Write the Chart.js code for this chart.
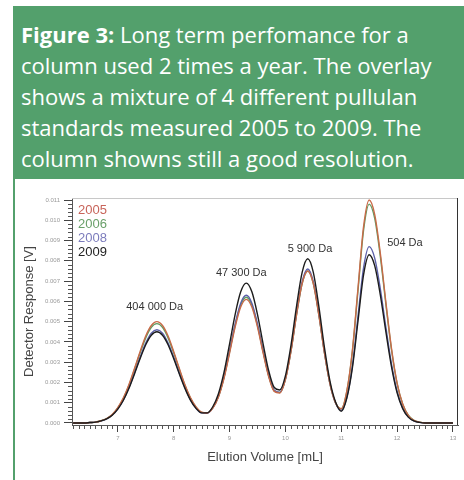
<!DOCTYPE html>
<html>
<head>
<meta charset="utf-8">
<script src="https://cdn.jsdelivr.net/npm/chart.js@4"></script>
<style>
  body { margin: 0; background: #fff; width: 464px; height: 480px; position: relative; overflow: hidden; }
  #header {
    position: absolute; left: 13px; top: 6px; width: 451px; height: 173px;
    background: #53a06c; color: #fff;
    font-family: "Open Sans", sans-serif; font-size: 22px; line-height: 31px;
    box-sizing: border-box; padding: 13px 0 0 8px; white-space: nowrap;
  }
  #header b { font-weight: 700; }
  #bar { position: absolute; left: 13px; top: 179px; width: 2px; height: 301px; background: #53a06c; }
  #wrap { position: absolute; left: 15px; top: 179px; width: 449px; height: 301px; }
</style>
</head>
<body>
<div id="header"><b>Figure 3:</b> Long term perfomance for a<br>column used 2 times a year. The overlay<br>shows a mixture of 4 different pullulan<br>standards measured 2005 to 2009. The<br>column showns still a good resolution.</div>
<div id="bar"></div>
<div id="wrap"><canvas id="gpcChart"></canvas></div>
<script>
// elution volume (mL), one point every 0.1 mL
const volumes = [6.2, 6.3, 6.4, 6.5, 6.6, 6.7, 6.8, 6.9,
  7.0, 7.1, 7.2, 7.3, 7.4, 7.5, 7.6, 7.7, 7.8, 7.9,
  8.0, 8.1, 8.2, 8.3, 8.4, 8.5, 8.6, 8.7, 8.8, 8.9,
  9.0, 9.1, 9.2, 9.3, 9.4, 9.5, 9.6, 9.7, 9.8, 9.9,
  10.0, 10.1, 10.2, 10.3, 10.4, 10.5, 10.6, 10.7, 10.8, 10.9,
  11.0, 11.1, 11.2, 11.3, 11.4, 11.5, 11.6, 11.7, 11.8, 11.9,
  12.0, 12.1, 12.2, 12.3, 12.4, 12.5, 12.6, 12.7, 12.8, 12.9,
  13.0];

// detector response (V) per year
const resp2005 = [0, 0, 0, 0.00002, 0.00004, 0.00011, 0.00022, 0.00042,
  0.00076, 0.00124, 0.0019, 0.0027, 0.00353, 0.00429, 0.00481, 0.0050, 0.00481, 0.00429,
  0.00353, 0.0027, 0.0019, 0.00125, 0.00079, 0.00053, 0.00049, 0.00073, 0.00127, 0.00219,
  0.00344, 0.00473, 0.00572, 0.0061, 0.00572, 0.00474, 0.00347, 0.00229, 0.00156, 0.00148,
  0.00214, 0.00355, 0.00535, 0.00688, 0.0075, 0.00688, 0.00531, 0.00344, 0.0019, 0.00098,
  0.0007, 0.00158, 0.0036, 0.00666, 0.0097, 0.0110, 0.01027, 0.00836, 0.00594, 0.00367,
  0.00197, 0.00094, 0.00038, 0.00013, 0.00004, 0, 0, 0, 0, 0,
  0];
const resp2006 = [0, 0, 0, 0.00002, 0.00004, 0.00011, 0.00022, 0.00041,
  0.00074, 0.00122, 0.00186, 0.00265, 0.00346, 0.0042, 0.00472, 0.0049, 0.00472, 0.0042,
  0.00346, 0.00265, 0.00187, 0.00123, 0.00078, 0.00052, 0.00049, 0.00074, 0.00129, 0.00223,
  0.0035, 0.00481, 0.00582, 0.0062, 0.00582, 0.00482, 0.00353, 0.00233, 0.00158, 0.0015,
  0.00214, 0.00354, 0.00534, 0.00688, 0.0075, 0.00688, 0.00531, 0.00344, 0.0019, 0.00098,
  0.0007, 0.00156, 0.00354, 0.00654, 0.00952, 0.0108, 0.01008, 0.00821, 0.00583, 0.0036,
  0.00194, 0.00092, 0.00038, 0.00013, 0.00004, 0, 0, 0, 0, 0,
  0];
const resp2008 = [0, 0, 0, 0.00002, 0.00004, 0.0001, 0.0002, 0.00039,
  0.0007, 0.00114, 0.00175, 0.00248, 0.00325, 0.00394, 0.00443, 0.0046, 0.00443, 0.00394,
  0.00325, 0.00248, 0.00176, 0.00115, 0.00073, 0.0005, 0.00048, 0.00074, 0.00131, 0.00226,
  0.00355, 0.00488, 0.00591, 0.0063, 0.00591, 0.00489, 0.00358, 0.00237, 0.00161, 0.00151,
  0.00217, 0.00359, 0.00541, 0.00697, 0.0076, 0.00697, 0.00537, 0.00348, 0.00192, 0.00097,
  0.00062, 0.00127, 0.00283, 0.00527, 0.00767, 0.0087, 0.00812, 0.00661, 0.0047, 0.0029,
  0.00156, 0.00074, 0.0003, 0.0001, 0.00003, 0, 0, 0, 0, 0,
  0];
const resp2009 = [0, 0, 0, 0.00002, 0.00004, 0.0001, 0.0002, 0.00038,
  0.00068, 0.00112, 0.00171, 0.00243, 0.00318, 0.00386, 0.00433, 0.0045, 0.00433, 0.00386,
  0.00318, 0.00243, 0.00172, 0.00113, 0.00072, 0.0005, 0.0005, 0.0008, 0.00143, 0.00248,
  0.00389, 0.00535, 0.00647, 0.0069, 0.00647, 0.00536, 0.00392, 0.00259, 0.00175, 0.00163,
  0.00232, 0.00383, 0.00577, 0.00743, 0.0081, 0.00743, 0.00573, 0.00371, 0.00204, 0.00102,
  0.00058, 0.00123, 0.00273, 0.00503, 0.00732, 0.0083, 0.00775, 0.00631, 0.00448, 0.00277,
  0.00149, 0.00071, 0.00029, 0.0001, 0.00003, 0, 0, 0, 0, 0,
  0];

const years = ['2005', '2006', '2008', '2009'];
const xTicks = [7, 8, 9, 10, 11, 12, 13];
const yTicks = [0, 0.001, 0.002, 0.003, 0.004, 0.005, 0.006, 0.007, 0.008, 0.009, 0.010, 0.011];

// peak annotations (molar mass) and where they sit in data units
const peakNames = ['404 000 Da', '47 300 Da', '5 900 Da', '504 Da'];
const peakNameVol = [7.66, 9.21, 10.44, 12.14];
const peakNameResp = [0.0057, 0.0074, 0.0086, 0.0089];

const lineColors = ['#c86a48', '#5f9c62', '#5c60a8', '#1c1c1c'];
const legendColors = ['#c8645a', '#6aa06a', '#7c7cbc', '#222222'];
const FONT = '"Liberation Sans", Arial, sans-serif';

function toPoints(arr) {
  return volumes.map((v, i) => ({ x: v, y: arr[i] }));
}

const extras = {
  id: 'extras',
  afterDatasetsDraw(chart) {
    const { ctx, chartArea: a, scales: { x, y } } = chart;
    ctx.save();

    // frame: light top, dark right
    ctx.lineWidth = 1;
    ctx.strokeStyle = '#c8c8c8';
    ctx.beginPath(); ctx.moveTo(a.left, a.top + 0.5); ctx.lineTo(a.right, a.top + 0.5); ctx.stroke();
    ctx.strokeStyle = '#333';
    ctx.beginPath(); ctx.moveTo(a.right - 0.5, a.top); ctx.lineTo(a.right - 0.5, a.bottom); ctx.stroke();

    // minor ticks
    ctx.strokeStyle = '#555';
    ctx.beginPath();
    for (let i = 1; i <= 55; i++) {
      if (i % 5 === 0) continue;
      const py = Math.round(y.getPixelForValue(i * 0.0002)) + 0.5;
      ctx.moveTo(a.left - 4, py); ctx.lineTo(a.left, py);
    }
    for (let i = 62; i <= 130; i++) {
      if (i % 10 === 0) continue;
      const px = Math.round(x.getPixelForValue(i / 10)) + 0.5;
      ctx.moveTo(px, a.bottom); ctx.lineTo(px, a.bottom + 4);
    }
    ctx.stroke();

    // legend, coloured text only
    ctx.font = '13px ' + FONT;
    ctx.textBaseline = 'middle';
    ctx.textAlign = 'left';
    years.forEach((yr, i) => {
      ctx.fillStyle = legendColors[i];
      ctx.fillText(yr, a.left + 6, a.top + 12 + i * 14);
    });

    // peak labels
    ctx.fillStyle = '#333';
    ctx.font = '11px ' + FONT;
    ctx.textAlign = 'center';
    peakNames.forEach((t, i) => {
      ctx.fillText(t, x.getPixelForValue(peakNameVol[i]), y.getPixelForValue(peakNameResp[i]));
    });
    ctx.restore();
  }
};

const ctx = document.getElementById('gpcChart').getContext('2d');
new Chart(ctx, {
  type: 'line',
  data: {
    datasets: [
      { label: '2005', data: toPoints(resp2005), borderColor: lineColors[0], order: 1 },
      { label: '2006', data: toPoints(resp2006), borderColor: lineColors[1], order: 3 },
      { label: '2008', data: toPoints(resp2008), borderColor: lineColors[2], order: 2 },
      { label: '2009', data: toPoints(resp2009), borderColor: lineColors[3], order: 0 }
    ]
  },
  options: {
    responsive: true,
    maintainAspectRatio: false,
    animation: false,
    layout: { padding: { left: 3, right: 6, top: 19, bottom: 11 } },
    elements: {
      point: { radius: 0 },
      line: { borderWidth: 1.4, cubicInterpolationMode: 'monotone', fill: false }
    },
    plugins: {
      legend: { display: false },
      tooltip: { enabled: false }
    },
    scales: {
      x: {
        type: 'linear',
        min: 6.18,
        max: 13.09,
        afterBuildTicks: s => { s.ticks = xTicks.map(v => ({ value: v })); },
        afterFit: s => { s.height = 44; },
        grid: { drawOnChartArea: false, tickLength: 7, color: '#444' },
        border: { color: '#555' },
        ticks: { font: { size: 6, family: FONT }, color: '#999', padding: 3, maxRotation: 0 },
        title: { display: true, text: 'Elution Volume [mL]', font: { size: 13, family: FONT }, color: '#444', padding: { top: 4, bottom: 4 } }
      },
      y: {
        min: -0.0001,
        max: 0.0111,
        afterBuildTicks: s => { s.ticks = yTicks.map(v => ({ value: v })); },
        afterFit: s => { s.width = 54; },
        grid: { drawOnChartArea: false, tickLength: 8, color: '#444' },
        border: { color: '#555' },
        ticks: { font: { size: 6, family: FONT }, color: '#999', padding: 4, callback: v => v.toFixed(3) },
        title: { display: true, text: 'Detector Response [V]', font: { size: 13, family: FONT }, color: '#444', padding: { top: 4, bottom: 4 } }
      }
    }
  },
  plugins: [extras]
});
</script>
</body>
</html>
